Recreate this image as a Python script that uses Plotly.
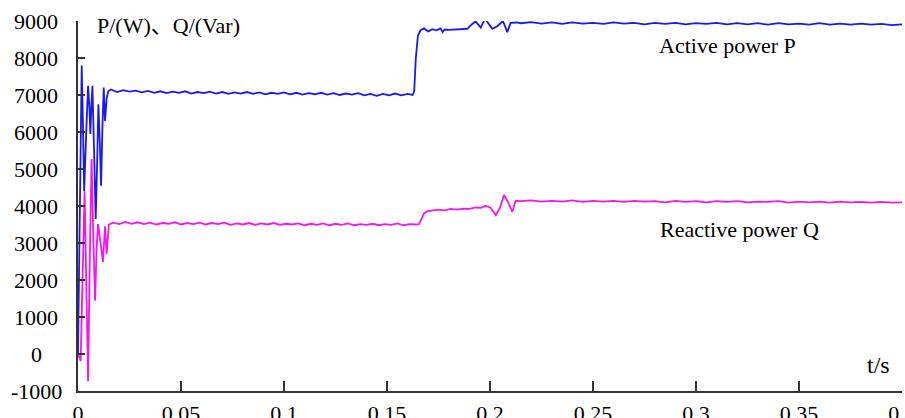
import plotly.graph_objects as go

# ---------------- data ----------------
p_time = [0, 0.0005, 0.0012, 0.0018, 0.0024, 0.003, 0.004, 0.0049, 0.0055, 0.006, 0.0065, 0.007,
          0.0078, 0.0086, 0.0093, 0.0099, 0.0106, 0.0112, 0.0119, 0.0125, 0.0131, 0.0139, 0.0147,
          0.016, 0.019, 0.022, 0.025, 0.028, 0.031, 0.034, 0.037, 0.040, 0.043, 0.046, 0.049, 0.052,
          0.055, 0.058, 0.061, 0.064, 0.067, 0.070, 0.073, 0.076, 0.079, 0.082, 0.085, 0.088, 0.091,
          0.094, 0.097, 0.100, 0.103, 0.106, 0.109, 0.112, 0.115, 0.118, 0.121, 0.124, 0.127, 0.130,
          0.133, 0.136, 0.139, 0.142, 0.145, 0.148, 0.151, 0.154, 0.157, 0.160, 0.1625,
          0.1632, 0.164, 0.165, 0.1663, 0.168, 0.170, 0.172, 0.174, 0.176, 0.177, 0.178, 0.180, 0.183,
          0.186, 0.189, 0.191, 0.193, 0.1955, 0.1976, 0.2011, 0.2035, 0.2063, 0.2084, 0.2100, 0.213,
          0.215, 0.220, 0.225, 0.230, 0.235, 0.240, 0.245, 0.250, 0.255, 0.260, 0.265, 0.270, 0.275,
          0.280, 0.285, 0.290, 0.295, 0.300, 0.305, 0.310, 0.315, 0.320, 0.325, 0.330, 0.335, 0.340,
          0.345, 0.350, 0.355, 0.360, 0.365, 0.370, 0.375, 0.380, 0.385, 0.390, 0.395, 0.400]
p_values = [0, 2400, 6000, 7800, 6200, 4400, 6000, 7250, 6700, 5950, 6700, 7250,
            5500, 3650, 5200, 6750, 5700, 4550, 6200, 7200, 6300, 6900, 7100,
            7150, 7080, 7130, 7090, 7120, 7070, 7110, 7060, 7100, 7050,
            7090, 7060, 7100, 7040, 7080, 7050, 7090, 7040, 7080, 7030,
            7070, 7040, 7080, 7030, 7070, 7020, 7060, 7030, 7070, 7020,
            7060, 7010, 7050, 7020, 7060, 7010, 7050, 7000, 7040, 7010,
            7050, 6990, 7030, 6980, 7030, 6990, 7040, 6990, 7030, 7000,
            7100, 8000, 8600, 8750, 8800, 8720, 8780, 8750, 8800, 8700, 8770, 8760, 8770,
            8760, 8790, 8900, 8990, 8820, 9060, 8790, 8860, 9000, 8700, 8950, 8960,
            8940, 8970, 8930, 8960, 8920, 8960, 8930, 8950, 8920, 8960,
            8930, 8950, 8910, 8950, 8920, 8950, 8910, 8940, 8920, 8950,
            8910, 8940, 8910, 8940, 8900, 8940, 8910, 8930, 8900, 8940,
            8900, 8930, 8900, 8930, 8900, 8920, 8890, 8910]

q_time = [0, 0.0006, 0.0013, 0.0022, 0.0032, 0.004, 0.0049, 0.0057, 0.0066, 0.0075, 0.0083, 0.009,
          0.0097, 0.011, 0.0121, 0.0131, 0.0139, 0.015,
          0.017, 0.020, 0.023, 0.026, 0.029, 0.032, 0.035, 0.038, 0.041, 0.044, 0.047, 0.050, 0.053,
          0.056, 0.059, 0.062, 0.065, 0.068, 0.071, 0.074, 0.077, 0.080, 0.083, 0.086, 0.089, 0.092,
          0.095, 0.098, 0.101, 0.104, 0.107, 0.110, 0.113, 0.116, 0.119, 0.122, 0.125, 0.128, 0.131,
          0.134, 0.137, 0.140, 0.143, 0.146, 0.149, 0.152, 0.155, 0.158, 0.161, 0.164,
          0.1655, 0.1663, 0.168, 0.1696, 0.172, 0.175, 0.178, 0.181, 0.184, 0.187, 0.190, 0.193,
          0.1955, 0.198, 0.2003, 0.2028, 0.2048, 0.2068, 0.2088, 0.2108, 0.2125,
          0.215, 0.220, 0.225, 0.230, 0.235, 0.240, 0.245, 0.250, 0.255, 0.260, 0.265, 0.270, 0.275,
          0.280, 0.285, 0.290, 0.295, 0.300, 0.305, 0.310, 0.315, 0.320, 0.325, 0.330, 0.335, 0.340,
          0.345, 0.350, 0.355, 0.360, 0.365, 0.370, 0.375, 0.380, 0.385, 0.390, 0.395, 0.400]
q_values = [0, -100, -190, 2000, 4400, 2000, -735, 2500, 5270, 3000, 1440, 2800,
            3510, 3000, 2485, 3450, 2700, 3500,
            3550, 3510, 3570, 3520, 3560, 3510, 3550, 3500, 3540, 3520,
            3560, 3500, 3540, 3510, 3550, 3500, 3540, 3510, 3550, 3490,
            3530, 3500, 3540, 3490, 3530, 3500, 3540, 3490, 3520, 3500,
            3530, 3480, 3520, 3490, 3530, 3480, 3520, 3490, 3530, 3480,
            3510, 3490, 3520, 3480, 3510, 3490, 3530, 3480, 3510, 3500,
            3510, 3600, 3800, 3860, 3880, 3900, 3880, 3920, 3900, 3930, 3920, 3960,
            3950, 4010, 3950, 3755, 3950, 4300, 4100, 3845, 4145,
            4130, 4150, 4120, 4140, 4120, 4150, 4110, 4140, 4120, 4140,
            4110, 4140, 4120, 4130, 4100, 4140, 4110, 4130, 4100, 4130,
            4110, 4130, 4100, 4120, 4110, 4130, 4090, 4120, 4100, 4120,
            4090, 4120, 4100, 4110, 4090, 4110, 4090, 4100]

x_ticks = [0, 0.05, 0.1, 0.15, 0.2, 0.25, 0.3, 0.35, 0.4]
x_tick_labels = ["0", "0.05", "0.1", "0.15", "0.2", "0.25", "0.3", "0.35", "0.4"]
y_ticks = [-1000, 0, 1000, 2000, 3000, 4000, 5000, 6000, 7000, 8000, 9000]
y_tick_labels = ["-1000", "0", "1000", "2000", "3000", "4000", "5000", "6000", "7000", "8000", "9000"]

# ---------------- figure ----------------
FONT = "Liberation Serif, Times New Roman, Noto Sans CJK SC, serif"
FS = 22
L, R, T, B = 78, 3, 21, 27          # plot area 78..902 x 21..391
PW = 905 - L - R
PH = 418 - T - B

fig = go.Figure()
fig.add_trace(go.Scatter(x=p_time, y=p_values, mode="lines",
                         line=dict(color="#1A1AEE", width=1.8), name="Active power P"))
fig.add_trace(go.Scatter(x=q_time, y=q_values, mode="lines",
                         line=dict(color="#F515F0", width=1.8), name="Reactive power Q"))

fig.update_layout(
    width=905, height=418,
    margin=dict(l=L, r=R, t=T, b=B, autoexpand=False),
    paper_bgcolor="white", plot_bgcolor="white",
    showlegend=False,
    font=dict(family=FONT, size=FS, color="black"),
)
fig.update_xaxes(
    range=[0, 0.4], tickvals=x_ticks, ticktext=x_tick_labels, automargin=False,
    ticklabeloverflow="allow", ticklabelstandoff=2,
    showgrid=False, zeroline=False, showline=True, linecolor="#333333", linewidth=1.5,
    ticks="inside", ticklen=10, tickcolor="#333333", tickwidth=1.5,
    tickfont=dict(family=FONT, size=FS, color="black"),
)
fig.update_yaxes(
    range=[-1000, 9000], tickvals=y_ticks, showticklabels=False, automargin=False,
    showgrid=False, zeroline=False, showline=True, linecolor="#333333", linewidth=1.5,
    ticks="inside", ticklen=7, tickcolor="#333333", tickwidth=1.5,
)

# y tick labels: centred in a column left of the axis, placed through the y scale
for v, lab in zip(y_ticks, y_tick_labels):
    fig.add_annotation(text=lab, xref="paper", yref="y", x=(36 - L) / PW, y=v,
                       xanchor="center", yanchor="middle", showarrow=False,
                       font=dict(family=FONT, size=FS, color="black"))

def px_to_paper(xp, yp):
    return (xp - L) / PW, (418 - B - yp) / PH

ax, ay = px_to_paper(95, 25)
fig.add_annotation(text="P/(W)、Q/(Var)", xref="paper", yref="paper", x=ax, y=ay,
                   xanchor="left", yanchor="middle", showarrow=False,
                   font=dict(family=FONT, size=FS, color="black"))
ax, ay = px_to_paper(657, 45)
fig.add_annotation(text="Active power P", xref="paper", yref="paper", x=ax, y=ay,
                   xanchor="left", yanchor="middle", showarrow=False,
                   font=dict(family=FONT, size=FS, color="black"))
ax, ay = px_to_paper(658, 229)
fig.add_annotation(text="Reactive power Q", xref="paper", yref="paper", x=ax, y=ay,
                   xanchor="left", yanchor="middle", showarrow=False,
                   font=dict(family=FONT, size=FS, color="black"))
ax, ay = px_to_paper(878, 365)
fig.add_annotation(text="t/s", xref="paper", yref="paper", x=ax, y=ay,
                   xanchor="center", yanchor="middle", showarrow=False,
                   font=dict(family=FONT, size=FS + 2, color="black"))

fig.write_html("out.html", config={"displayModeBar": False},
               post_script="document.body.style.margin='0';document.body.style.overflow='hidden';")
